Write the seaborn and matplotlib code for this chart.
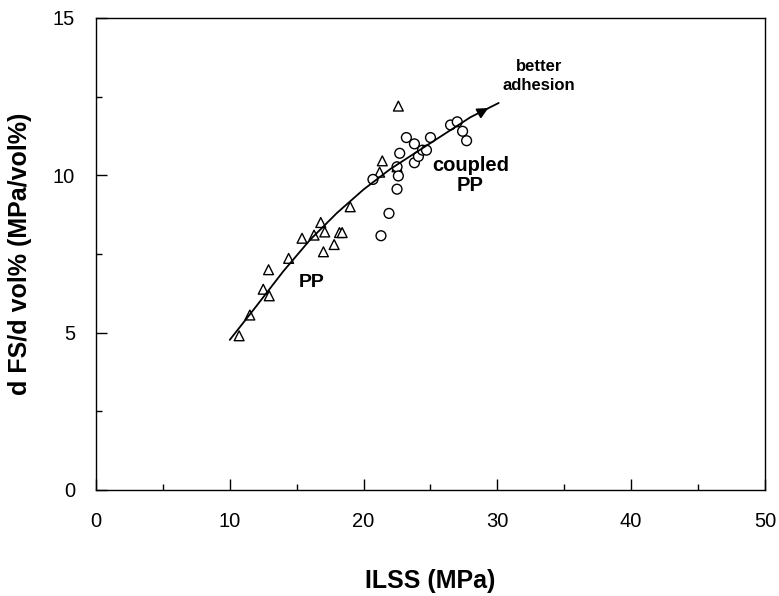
import numpy as np
import pandas as pd
import matplotlib
matplotlib.use("Agg")
import matplotlib.pyplot as plt
import seaborn as sns
from matplotlib.ticker import MultipleLocator

# ==================================================
# Data
# ==================================================
pp_ilss = [10.7, 11.5, 12.5, 12.95, 12.9, 14.4, 15.4, 16.3, 16.8, 17.0, 17.1,
           17.8, 18.2, 18.4, 19.0, 21.2, 21.4, 22.5, 22.6]
pp_slope = [4.9, 5.56, 6.38, 6.17, 7.0, 7.36, 8.0, 8.1, 8.5, 7.57, 8.2,
            7.8, 8.18, 8.18, 9.0, 10.1, 10.46, 10.27, 12.2]

cpp_ilss = [20.7, 22.7, 22.5, 22.6, 22.5, 21.9, 21.3, 23.2, 23.8, 23.8, 24.1,
            24.4, 24.7, 25.0, 26.5, 27.0, 27.4, 27.7]
cpp_slope = [9.87, 10.7, 10.27, 9.98, 9.56, 8.79, 8.08, 11.2, 11.0, 10.4, 10.6,
             10.8, 10.8, 11.2, 11.6, 11.7, 11.4, 11.1]

trend_ilss = [10.0, 12.0, 14.0, 16.0, 18.0, 20.0, 22.0, 24.0, 26.0, 28.0, 30.1]
trend_slope = [4.77, 5.85, 6.95, 7.95, 8.8, 9.55, 10.2, 10.75, 11.3, 11.85, 12.3]

df = pd.concat([
    pd.DataFrame({"ILSS": pp_ilss, "slope": pp_slope, "group": "PP"}),
    pd.DataFrame({"ILSS": cpp_ilss, "slope": cpp_slope, "group": "coupled PP"}),
])
trend = pd.DataFrame({"ILSS": trend_ilss, "slope": trend_slope})

# ==================================================
# Settings
# ==================================================
sns.set_style("white")
plt.rcParams["font.family"] = ["Liberation Sans", "DejaVu Sans"]
for key in ["text.color", "axes.labelcolor", "xtick.color", "ytick.color"]:
    plt.rcParams[key] = "black"

fig = plt.figure(figsize=(7.79, 5.96), dpi=100)
ax = fig.add_axes([0.1232, 0.1779, 0.8588, 0.7919])

# ==================================================
# Plot
# ==================================================
sns.lineplot(data=trend, x="ILSS", y="slope", sort=False, color="black",
             linewidth=1.3, ax=ax)

sns.scatterplot(data=df, x="ILSS", y="slope", style="group",
                markers={"PP": "^", "coupled PP": "o"}, s=50,
                facecolor="white", edgecolor="black", linewidth=1.0,
                legend=False, ax=ax)

# arrow head on the trend line
ax.annotate("", xy=(29.5, 12.18), xytext=(28.6, 11.97),
            arrowprops=dict(arrowstyle="-|>", color="black", lw=1.3,
                            mutation_scale=16))

ax.text(33.1, 13.15, "better\nadhesion", ha="center", va="center",
        fontsize=12, fontweight="bold", linespacing=1.3)
ax.text(28.0, 10.0, "coupled\nPP", ha="center", va="center",
        fontsize=14.5, fontweight="bold", linespacing=1.05)
ax.text(16.1, 6.58, "PP", ha="center", va="center",
        fontsize=14, fontweight="bold")

# ==================================================
# Axes
# ==================================================
ax.set_xlim(0, 50)
ax.set_ylim(0, 15)
ax.xaxis.set_major_locator(MultipleLocator(10))
ax.xaxis.set_minor_locator(MultipleLocator(5))
ax.yaxis.set_major_locator(MultipleLocator(5))
ax.yaxis.set_minor_locator(MultipleLocator(2.5))
ax.tick_params(which="both", bottom=True, left=True, top=False, right=False)
ax.tick_params(which="major", direction="in", length=8, width=1,
               labelsize=14.5)
ax.tick_params(axis="x", which="major", pad=16)
ax.tick_params(axis="y", which="major", pad=15)
ax.tick_params(which="minor", direction="in", length=4, width=1)
for sp in ax.spines.values():
    sp.set_color("black")
    sp.set_linewidth(1.0)

ax.set_xlabel("ILSS (MPa)", fontsize=18, fontweight="bold", labelpad=27)
ax.set_ylabel("d FS/d vol% (MPa/vol%)", fontsize=18, fontweight="bold",
              labelpad=15)

fig.savefig("out.png", dpi=100)
